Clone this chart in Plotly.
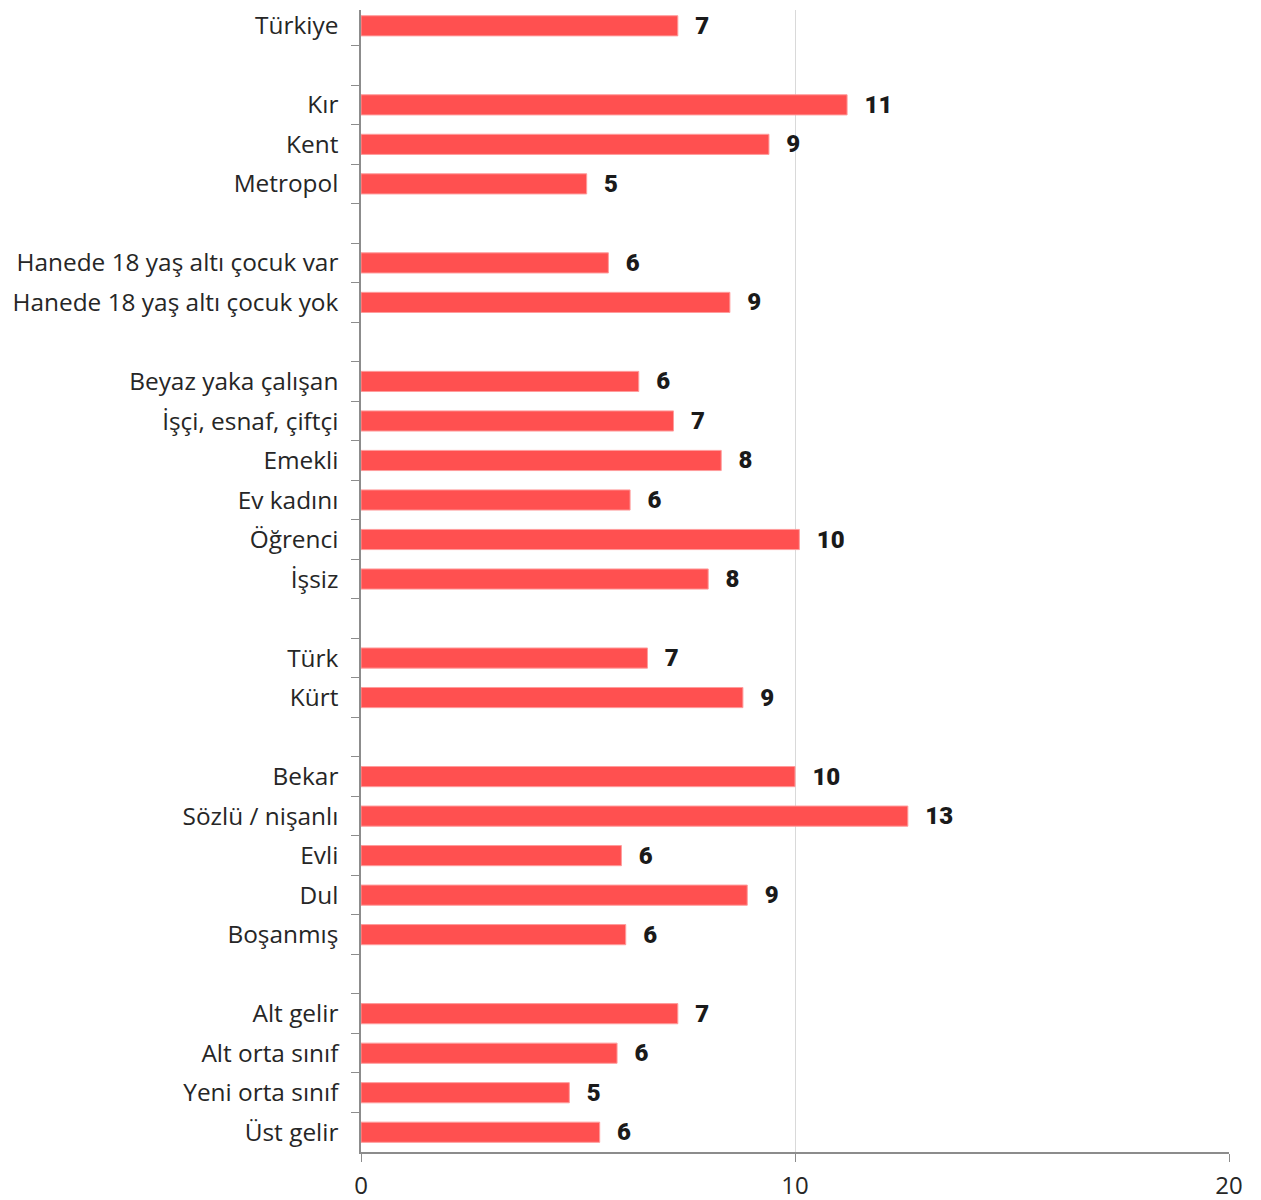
import plotly.graph_objects as go

# Categories top-to-bottom; "" marks a blank separator row
categories = [
    "Türkiye", "",
    "Kır", "Kent", "Metropol", "",
    "Hanede 18 yaş altı çocuk var", "Hanede 18 yaş altı çocuk yok", "",
    "Beyaz yaka çalışan", "İşçi, esnaf, çiftçi", "Emekli", "Ev kadını", "Öğrenci", "İşsiz", "",
    "Türk", "Kürt", "",
    "Bekar", "Sözlü / nişanlı", "Evli", "Dul", "Boşanmış", "",
    "Alt gelir", "Alt orta sınıf", "Yeni orta sınıf", "Üst gelir",
]
values = [
    7.3, None,
    11.2, 9.4, 5.2, None,
    5.7, 8.5, None,
    6.4, 7.2, 8.3, 6.2, 10.1, 8.0, None,
    6.6, 8.8, None,
    10.0, 12.6, 6.0, 8.9, 6.1, None,
    7.3, 5.9, 4.8, 5.5,
]
x_ticks = [0, 10, 20]

# unique names for blank rows
ycats = []
k = 0
for c in categories:
    if c == "":
        k += 1
        ycats.append("\u200b" * k)
    else:
        ycats.append(c)

texts = ["" if v is None else "\u00a0\u00a0\u200a" + str(int(v + 0.5)) for v in values]

fig = go.Figure()
fig.add_trace(go.Bar(
    x=values, y=ycats, orientation="h",
    marker=dict(color="#FF5050", line=dict(color="#FF9C9C", width=1)),
    text=texts, textposition="outside", cliponaxis=False, constraintext="none",
    textfont=dict(family="Roboto", size=24, color="#1a1a1a", weight=900),
    hoverinfo="skip",
))

n = len(ycats)
fig.update_layout(
    width=1261, height=1200,
    margin=dict(l=353, r=40, t=0, b=56),
    plot_bgcolor="white", paper_bgcolor="white",
    bargap=0.49, showlegend=False,
    font=dict(family="Open Sans", color="#262626"),
)
fig.update_xaxes(
    range=[0, 20], tickvals=x_ticks, ticktext=[str(t) for t in x_ticks],
    showgrid=True, gridcolor="#d9d9d9", gridwidth=1, zeroline=False,
    showline=True, linecolor="#8c8c8c", linewidth=1.5,
    ticks="outside", ticklen=8, tickcolor="#8c8c8c",
    tickfont=dict(size=24, color="#262626"), ticklabelstandoff=3,
)
fig.update_yaxes(
    type="category", categoryorder="array", categoryarray=ycats,
    range=[n - 0.5, -0.4],
    showgrid=False, showline=True, linecolor="#8c8c8c", linewidth=1.5,
    ticks="outside", ticklen=8, tickcolor="#8c8c8c", tickson="boundaries",
    tickfont=dict(size=24.4, color="#262626"), ticklabelstandoff=16,
)

fig.write_html("out.html")
